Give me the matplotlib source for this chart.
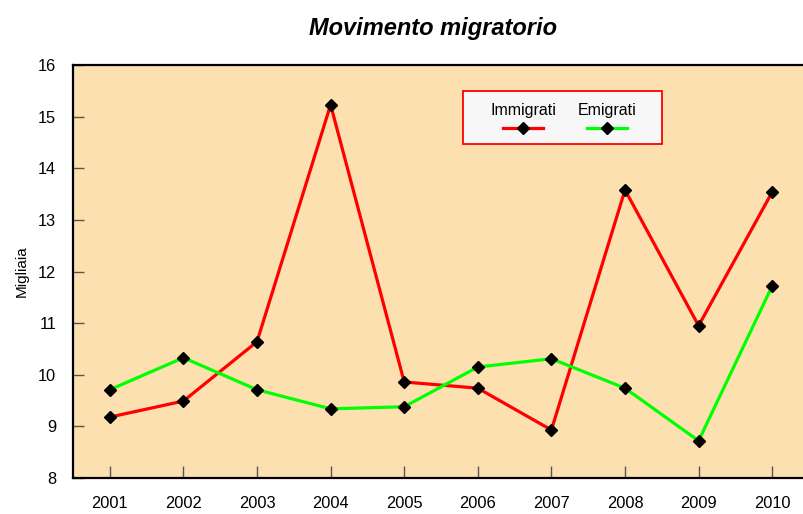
import matplotlib.pyplot as plt
from matplotlib.lines import Line2D
from matplotlib.patches import Rectangle

plt.rcParams['font.family'] = ['Liberation Sans', 'DejaVu Sans']

anni = [2001, 2002, 2003, 2004, 2005, 2006, 2007, 2008, 2009, 2010]
immigrati = [9.18, 9.49, 10.64, 15.23, 9.86, 9.74, 8.93, 13.58, 10.95, 13.54]
emigrati = [9.71, 10.33, 9.71, 9.34, 9.38, 10.15, 10.31, 9.74, 8.72, 11.72]
y_ticks = [8, 9, 10, 11, 12, 13, 14, 15, 16]

fig = plt.figure(figsize=(8.04, 5.14), dpi=100)
ax = fig.add_axes([73 / 804, 36 / 514, 736 / 804, 413 / 514])
ax.set_facecolor('#fde0b0')

ax.plot(anni, immigrati, color='#ff0000', lw=2.3, marker='D', ms=6.5,
        mfc='black', mec='black', zorder=3)
ax.plot(anni, emigrati, color='#00ff00', lw=2.3, marker='D', ms=6.5,
        mfc='black', mec='black', zorder=3)

ax.set_xlim(2000.5, 2010.5)
ax.set_ylim(8, 16)
ax.set_xticks(anni)
ax.set_yticks(y_ticks)
ax.tick_params(axis='x', direction='in', length=9, width=1, color='#555555',
               labelsize=11.8, pad=13)
ax.tick_params(axis='y', direction='in', length=8, width=1, color='#555555',
               labelsize=11.8, pad=12)
for s in ax.spines.values():
    s.set_linewidth(1.6)
ax.spines['right'].set_visible(False)

ax.set_ylabel('Migliaia', fontsize=11, labelpad=7)
fig.text(433 / 804, 1 - 28 / 514, 'Movimento migratorio', ha='center', va='center',
         fontsize=17, fontweight='bold', fontstyle='italic')

# legend box with labels above the line samples
fig.patches.append(Rectangle((463 / 804, 1 - 144 / 514), 199 / 804, 53 / 514,
                             transform=fig.transFigure, facecolor='#f7f7f7',
                             edgecolor='#ff0000', lw=1.3, zorder=5))
for cx, lab, col in [(523, 'Immigrati', '#ff0000'), (607, 'Emigrati', '#00ff00')]:
    fig.text(cx / 804, 1 - 111 / 514, lab, ha='center', va='center', fontsize=11.5, zorder=6)
    fig.lines.append(Line2D([(cx - 20) / 804, (cx + 20) / 804], [1 - 128 / 514] * 2,
                            transform=fig.transFigure, color=col, lw=2.3, zorder=6))
    fig.lines.append(Line2D([cx / 804], [1 - 128 / 514], transform=fig.transFigure,
                            marker='D', ms=6.5, color='black', zorder=7))

fig.savefig('out.png', dpi=100)
